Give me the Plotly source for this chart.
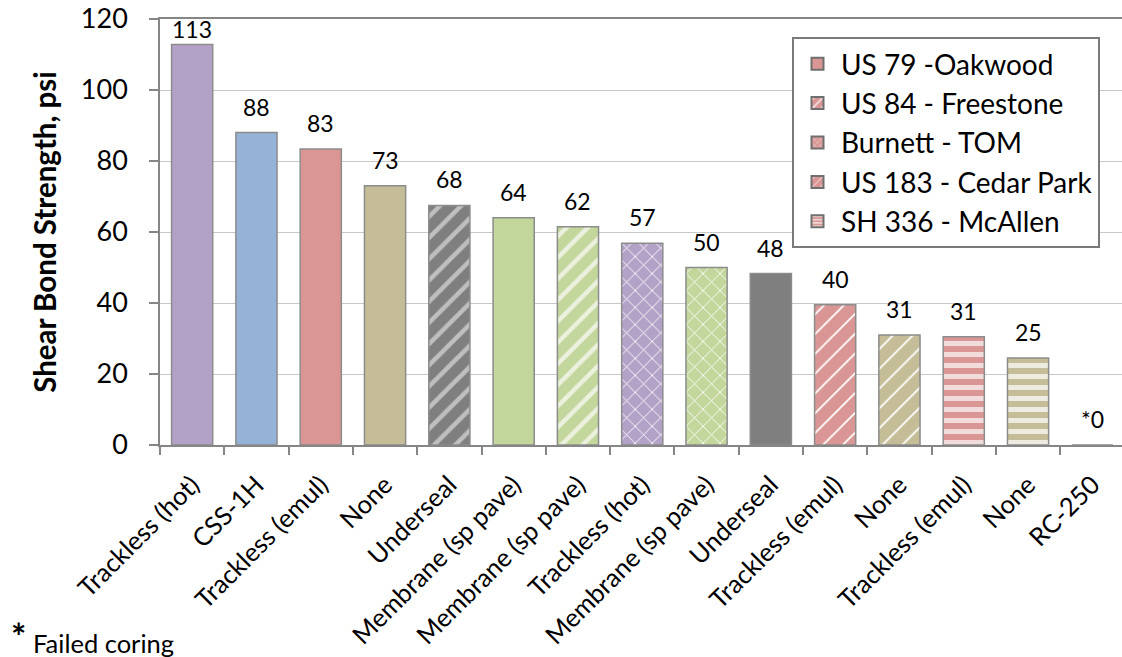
import plotly.graph_objects as go

# ---------------- data ----------------
treatments = ["Trackless (hot)", "CSS-1H", "Trackless (emul)", "None", "Underseal",
              "Membrane (sp pave)", "Membrane (sp pave)", "Trackless (hot)",
              "Membrane (sp pave)", "Underseal", "Trackless (emul)", "None",
              "Trackless (emul)", "None", "RC-250"]
values = [112.8, 88.0, 83.4, 73.0, 67.5, 64.0, 61.5, 56.8, 50.0, 48.3, 39.5, 31.0, 30.5, 24.5, 0.0]
value_labels = ["113", "88", "83", "73", "68", "64", "62", "57", "50", "48", "40", "31", "31", "25", "*0"]
sites = ["US 79 -Oakwood", "US 79 -Oakwood", "US 79 -Oakwood", "US 79 -Oakwood",
         "US 84 - Freestone", "US 79 -Oakwood", "US 84 - Freestone", "Burnett - TOM",
         "Burnett - TOM", "US 79 -Oakwood", "US 183 - Cedar Park", "US 183 - Cedar Park",
         "SH 336 - McAllen", "SH 336 - McAllen", "US 79 -Oakwood"]
legend_sites = ["US 79 -Oakwood", "US 84 - Freestone", "Burnett - TOM",
                "US 183 - Cedar Park", "SH 336 - McAllen"]
y_ticks = [0, 20, 40, 60, 80, 100, 120]

# ---------------- styles ----------------
FONT = "Lato"
base_color = {
    "Trackless (hot)": "#b3a2c7",
    "CSS-1H": "#95b3d7",
    "Trackless (emul)": "#d99694",
    "None": "#c4bd97",
    "Underseal": "#7f7f7f",
    "Membrane (sp pave)": "#c3d69b",
    "RC-250": "#d99694",
}
tint_color = {
    "Trackless (hot)": "#e5e0ec",
    "CSS-1H": "#dbe5f1",
    "Trackless (emul)": "#f2dcdb",
    "None": "#eeece1",
    "Underseal": "#bfbfbf",
    "Membrane (sp pave)": "#ebf1de",
    "RC-250": "#f2dcdb",
}
pattern_style = {
    "US 79 -Oakwood": dict(shape="", size=10, solidity=0.3, fg="tint"),
    "US 84 - Freestone": dict(shape="/", size=15, solidity=0.3, fg="tint"),
    "Burnett - TOM": dict(shape="x", size=12, solidity=0.14, fg="white"),
    "US 183 - Cedar Park": dict(shape="/", size=14, solidity=0.13, fg="white"),
    "SH 336 - McAllen": dict(shape="-", size=11, solidity=0.45, fg="tint"),
}
outline = "#8c8c8c"
axis_col = "#868686"
grid_col = "#c8c8c8"

W, H = 1122, 657
L, R, T, B = 160, 0, 19, 212
n = len(values)
x_idx = list(range(n))
x_range = [-0.5, -0.5 + (W - L - R) / 64.3]
y_range = [0, 120]
plot_w = W - L - R
plot_h = H - T - B
ppu = plot_h / (y_range[1] - y_range[0])


def fg_for(t, s):
    return tint_color[t] if pattern_style[s]["fg"] == "tint" else "#ffffff"


def pattern_for(t, s, shrink=0):
    st = pattern_style[s]
    return dict(shape=st["shape"], size=max(st["size"] - shrink, 4),
                solidity=st["solidity"], fgcolor=fg_for(t, s),
                bgcolor=base_color[t], fillmode="replace")


fig = go.Figure()

for i, (t, v, s) in enumerate(zip(treatments, values, sites)):
    fig.add_trace(go.Bar(
        x=[x_idx[i]], y=[v], width=0.64, showlegend=False, hoverinfo="skip",
        marker=dict(color=base_color[t], line=dict(color=outline, width=1.5),
                    pattern=pattern_for(t, s)),
    ))

# legend-only entries (pink swatches with each site's pattern)
for s in legend_sites:
    fig.add_trace(go.Bar(
        x=[None], y=[None], name=s, showlegend=True,
        marker=dict(color=base_color["Trackless (emul)"],
                    line=dict(color="#6f6f6f", width=1.5),
                    pattern=pattern_for("Trackless (emul)", s, shrink=7)),
    ))

# data labels above bars
for i, (v, lab) in enumerate(zip(values, value_labels)):
    shift = min(26, (y_range[1] - v) * ppu - 10.5)
    fig.add_annotation(x=x_idx[i], y=v, text=lab, showarrow=False, yshift=shift,
                       xanchor="center", yanchor="middle",
                       font=dict(family=FONT, size=23, color="black"))

# footnote
def px_to_paper(px, py):
    return (px - L) / plot_w, (H - B - py) / plot_h

fx, fy = px_to_paper(9, 612)
fig.add_annotation(xref="paper", yref="paper", x=fx, y=fy, text="<b>*</b>", showarrow=False,
                   xanchor="left", yanchor="top",
                   font=dict(family=FONT, size=36, color="black"))
fx, fy = px_to_paper(31, 643)
fig.add_annotation(xref="paper", yref="paper", x=fx, y=fy, text="Failed coring",
                   showarrow=False, xanchor="left", yanchor="middle",
                   font=dict(family=FONT, size=25.5, color="black"))

lx, ly = px_to_paper(792, 37)
fig.update_layout(
    width=W, height=H,
    margin=dict(l=L, r=R, t=T, b=B, autoexpand=False),
    paper_bgcolor="white", plot_bgcolor="white",
    barmode="overlay",
    font=dict(family=FONT, color="black"),
    legend=dict(
        x=lx, y=ly, xanchor="left", yanchor="top",
        bordercolor="#7a7a7a", borderwidth=2, bgcolor="white",
        font=dict(family=FONT, size=28, color="black"),
        tracegroupgap=0, itemsizing="constant", itemwidth=37,
    ),
    xaxis=dict(
        range=x_range, tickmode="array", tickvals=x_idx, ticktext=treatments,
        tickangle=-45, ticks="", showgrid=False, zeroline=False,
        showline=True, linecolor=axis_col, linewidth=1.5, mirror=True,
        tickfont=dict(family=FONT, size=25.5, color="black"),
        ticklabelstandoff=13,
        minor=dict(tickmode="array", tickvals=[i - 0.5 for i in range(n + 1)],
                   ticks="outside", ticklen=8, tickcolor=axis_col, tickwidth=1.5,
                   showgrid=False),
    ),
    yaxis=dict(
        range=y_range, tickmode="array", tickvals=y_ticks,
        ticks="outside", ticklen=9, tickcolor=axis_col, tickwidth=1.5,
        showgrid=True, gridcolor=grid_col, gridwidth=1.3, zeroline=False,
        showline=True, linecolor=axis_col, linewidth=1.5,
        tickfont=dict(family=FONT, size=27, color="black"),
        ticklabelstandoff=16,
        title=dict(text="<b>Shear Bond Strength, psi</b>",
                   font=dict(family=FONT, size=29.5, color="black"), standoff=16),
    ),
)

fig.write_html("out.html", config={"displayModeBar": False},
               post_script="document.body.style.margin='0px';")
